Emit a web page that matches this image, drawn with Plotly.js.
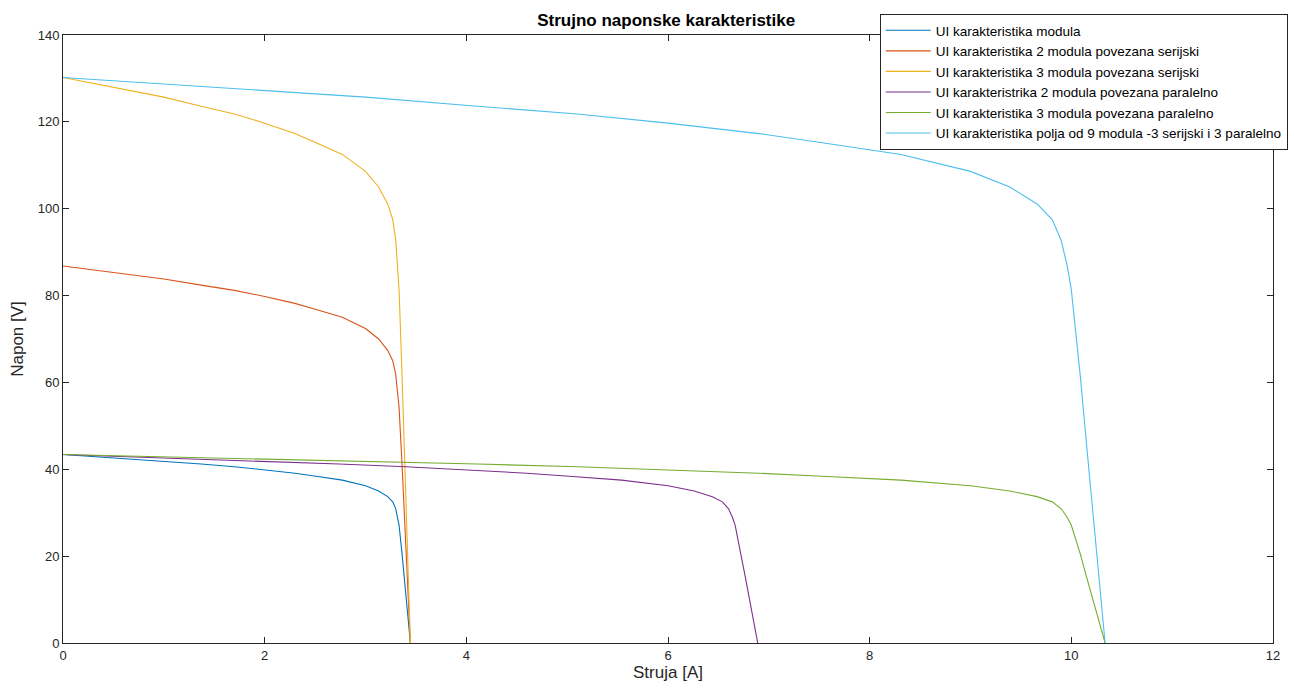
<!DOCTYPE html>
<html>
<head>
<meta charset="utf-8">
<script src="https://cdn.plot.ly/plotly-3.0.1.min.js"></script>
<style>html,body{margin:0;padding:0;background:#fff;overflow:hidden;width:1294px;height:692px;}#chart{width:1340px;height:692px;}</style>
</head>
<body>
<div id="chart"></div>
<script>
// Single module
var I_mod = [0, 0.33, 0.67, 1.0, 1.37, 1.7, 2.0, 2.3, 2.51, 2.77, 3.0, 3.13, 3.22, 3.27, 3.30, 3.32, 3.333, 3.363, 3.383, 3.445];
var V_mod = [43.4, 42.9, 42.4, 41.9, 41.2, 40.6, 39.9, 39.1, 38.4, 37.5, 36.2, 35.0, 33.7, 32.5, 30.9, 28.9, 27.1, 20.4, 15.3, 0];
// 2 modules in series
var I_2s = [0, 0.33, 0.67, 1.0, 1.37, 1.7, 2.0, 2.3, 2.51, 2.77, 3.0, 3.13, 3.22, 3.27, 3.30, 3.32, 3.333, 3.363, 3.383, 3.445];
var V_2s = [86.8, 85.8, 84.8, 83.8, 82.4, 81.2, 79.8, 78.2, 76.8, 75.0, 72.4, 70.0, 67.4, 65.0, 61.8, 57.8, 54.2, 40.8, 30.6, 0];
// 3 modules in series
var I_3s = [0, 0.33, 0.67, 1.0, 1.37, 1.7, 2.0, 2.3, 2.51, 2.77, 3.0, 3.13, 3.22, 3.27, 3.30, 3.32, 3.333, 3.363, 3.383, 3.445];
var V_3s = [130.2, 128.7, 127.2, 125.7, 123.6, 121.8, 119.7, 117.3, 115.2, 112.5, 108.6, 105.0, 101.1, 97.5, 92.7, 86.7, 81.3, 61.2, 45.9, 0];
// 2 modules in parallel
var I_2p = [0, 0.66, 1.34, 2.0, 2.74, 3.4, 4.0, 4.6, 5.02, 5.54, 6.0, 6.26, 6.44, 6.54, 6.60, 6.64, 6.666, 6.726, 6.766, 6.89];
var V_2p = [43.4, 42.9, 42.4, 41.9, 41.2, 40.6, 39.9, 39.1, 38.4, 37.5, 36.2, 35.0, 33.7, 32.5, 30.9, 28.9, 27.1, 20.4, 15.3, 0];
// 3 modules in parallel
var I_3p = [0, 0.99, 2.01, 3.0, 4.11, 5.1, 6.0, 6.9, 7.53, 8.31, 9.0, 9.39, 9.66, 9.81, 9.90, 9.96, 10.0, 10.09, 10.15, 10.335];
var V_3p = [43.4, 42.9, 42.4, 41.9, 41.2, 40.6, 39.9, 39.1, 38.4, 37.5, 36.2, 35.0, 33.7, 32.5, 30.9, 28.9, 27.1, 20.4, 15.3, 0];
// array of 9 modules (3 series x 3 parallel)
var I_9 = [0, 0.99, 2.01, 3.0, 4.11, 5.1, 6.0, 6.9, 7.53, 8.31, 9.0, 9.39, 9.66, 9.81, 9.90, 9.96, 10.0, 10.09, 10.15, 10.335];
var V_9 = [130.2, 128.7, 127.2, 125.7, 123.6, 121.8, 119.7, 117.3, 115.2, 112.5, 108.6, 105.0, 101.1, 97.5, 92.7, 86.7, 81.3, 61.2, 45.9, 0];

var names = [
  'UI karakteristika modula',
  'UI karakteristika 2 modula povezana serijski',
  'UI karakteristika 3 modula povezana serijski',
  'UI karakteristrika 2 modula povezana paralelno',
  'UI karakteristika 3 modula povezana paralelno',
  'UI karakteristika polja od 9 modula -3 serijski i 3 paralelno'
];
var colors = ['#0072BD', '#D95319', '#EDB120', '#7E2F8E', '#77AC30', '#4DBEEE'];
var xs = [I_mod, I_2s, I_3s, I_2p, I_3p, I_9];
var ys = [V_mod, V_2s, V_3s, V_2p, V_3p, V_9];

var traces = xs.map(function(x, i) {
  return {x: x, y: ys[i], type: 'scatter', mode: 'lines', name: names[i],
          line: {color: colors[i], width: 1.1}};
});

var axisCommon = {
  showline: true, mirror: 'ticks', linecolor: '#262626', linewidth: 1,
  ticks: 'inside', ticklen: 6, tickcolor: '#262626', tickwidth: 1,
  showgrid: false, zeroline: false,
  tickfont: {family: 'Liberation Sans, Arial, sans-serif', size: 13, color: '#262626'}
};

var layout = {
  width: 1340, height: 692,
  margin: {l: 63, r: 67, t: 35, b: 49},
  paper_bgcolor: '#ffffff', plot_bgcolor: '#ffffff',
  font: {family: 'Liberation Sans, Arial, sans-serif', color: '#262626'},
  title: {text: '<b>Strujno naponske karakteristike</b>', font: {size: 17, color: '#000'},
          x: 668 / 1340, xanchor: 'center', xref: 'paper', y: 1 - 20 / 692, yanchor: 'middle'},
  xaxis: Object.assign({}, axisCommon, {
    range: [0, 12], tickvals: [0, 2, 4, 6, 8, 10, 12],
    title: {text: 'Struja [A]', font: {size: 17, color: '#262626'}, standoff: 4}
  }),
  yaxis: Object.assign({}, axisCommon, {
    range: [0, 140], tickvals: [0, 20, 40, 60, 80, 100, 120, 140],
    title: {text: 'Napon [V]', font: {size: 17, color: '#262626'}, standoff: 9}
  }),
  showlegend: true,
  legend: {
    x: 0.675, y: 1.0345, xanchor: 'left', yanchor: 'top',
    bgcolor: '#ffffff', bordercolor: '#262626', borderwidth: 1,
    font: {size: 13.5, color: '#000'}, tracegroupgap: 0, itemwidth: 45
  }
};

Plotly.newPlot('chart', traces, layout, {displayModeBar: false, staticPlot: true});
</script>
</body>
</html>
